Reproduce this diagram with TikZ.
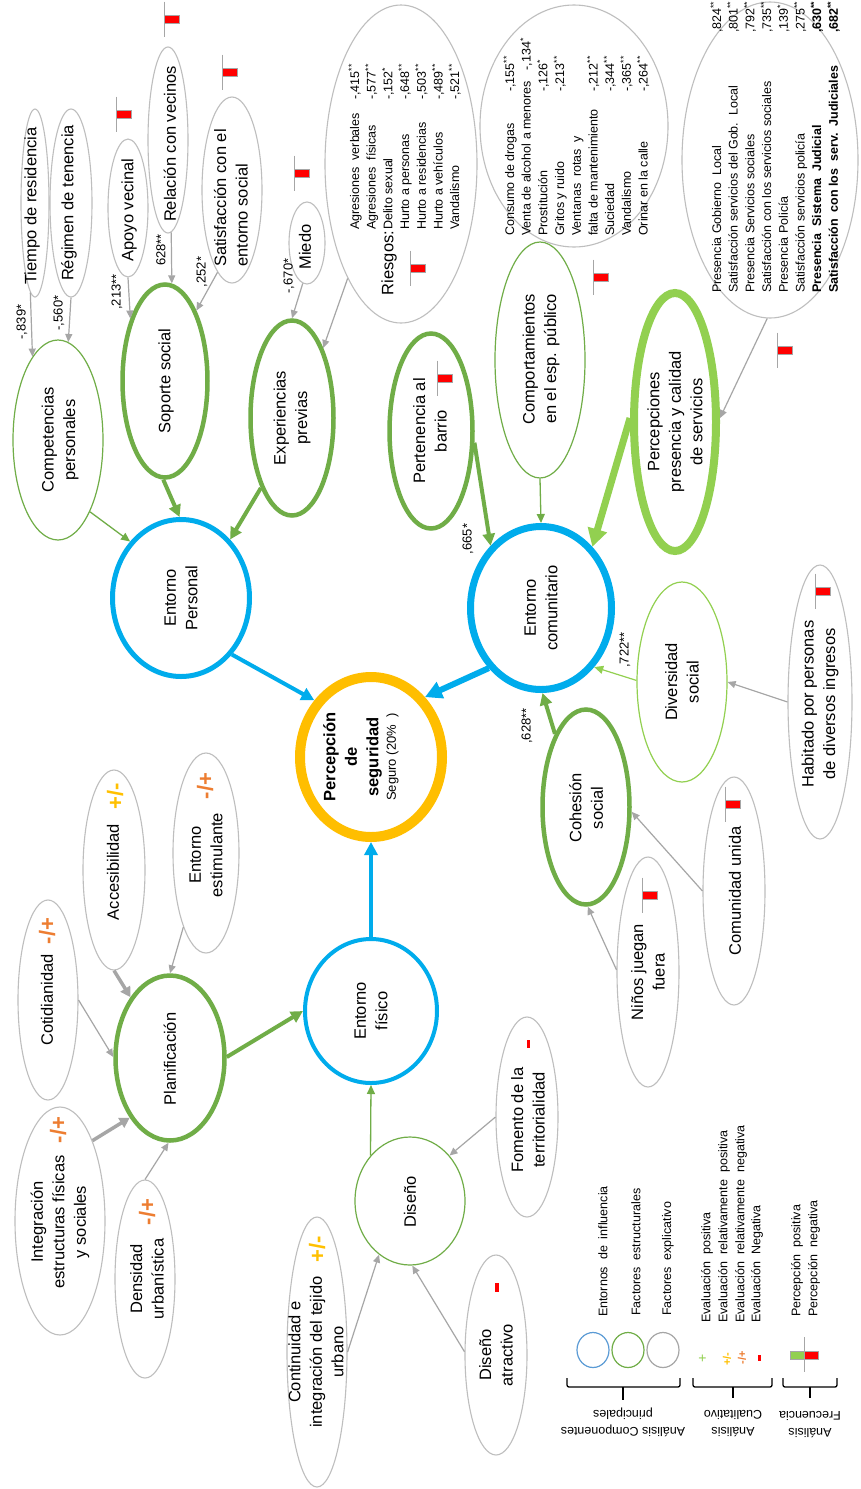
\documentclass[tikz,border=0pt]{standalone}
\usepackage{fontspec}
\setmainfont{Liberation Sans}
\usetikzlibrary{shapes.geometric,arrows.meta}
\definecolor{cblue}{RGB}{0,172,236}
\definecolor{cgreen}{RGB}{112,173,71}
\definecolor{clgreen}{RGB}{146,208,80}
\definecolor{cgray}{RGB}{190,190,190}
\definecolor{cagray}{RGB}{166,166,166}
\definecolor{cring}{RGB}{255,190,0}
\definecolor{corange}{RGB}{237,125,49}
\definecolor{cyellow}{RGB}{255,192,0}
\definecolor{cred}{RGB}{255,0,0}
\definecolor{clblue}{RGB}{91,155,213}

\newcommand\lblfont{\fontsize{16.5}{21.5}\selectfont}
\newcommand\listfont{\fontsize{12.5}{16.7}\selectfont}
\newcommand\coeffont{\fontsize{13}{15}\selectfont}
\newcommand\symfont{\fontsize{22}{24}\selectfont\bfseries}
\newcommand\legfont{\fontsize{12.5}{17}\selectfont}
\newcommand\rw[3]{\makebox[#1][l]{#2}#3}
\newcommand\st[1]{\textsuperscript{#1}}

\tikzset{
  ellbase/.style={ellipse, inner sep=0pt},
  grayell/.style={ellbase, draw=cgray, line width=1.1pt},
  thinell/.style={ellbase, draw=cgreen, line width=1.2pt},
  thickell/.style={ellbase, draw=cgreen, line width=4.5pt},
  blueell/.style={ellbase, draw=cblue},
  lbl/.style={rotate=90, align=center, font=\lblfont, inner sep=0pt},
  coef/.style={rotate=90, font=\coeffont, inner sep=0pt},
  sym/.style={rotate=90, font=\symfont, inner sep=0pt},
  listtxt/.style={rotate=90, anchor=base west, inner sep=0pt, font=\listfont},
  legtxt/.style={rotate=90, anchor=west, inner sep=0pt, font=\legfont},
  garrow/.style={draw=cagray, line width=1.2pt, -{Triangle[length=8pt,width=7pt]}},
  gthick/.style={draw=cagray, line width=3.5pt, -{Triangle[length=10pt,width=11pt]}},
  gnthin/.style={draw=cgreen, line width=1.3pt, -{Triangle[length=9pt,width=8pt]}},
  gnthick/.style={draw=cgreen, line width=4pt, -{Triangle[length=12pt,width=12pt]}},
  lgthin/.style={draw=clgreen, line width=1.2pt, -{Triangle[length=9pt,width=8pt]}},
  lgthick/.style={draw=clgreen, line width=7pt, -{Triangle[length=18pt,width=19pt]}},
  barrow/.style={draw=cblue, line width=4pt, -{Triangle[length=13pt,width=13pt]}},
  bthick/.style={draw=cblue, line width=6pt, -{Triangle[length=17pt,width=17pt]}},
  brace/.style={draw=black, line width=1.3pt, rounded corners=2pt},
}
\newcommand\flag[2]{%
  \draw[cagray, line width=0.8pt] (#1,#2-17.5) -- (#1,#2+17.5);
  \draw[fill=cred, draw=cagray, line width=0.8pt] (#1,#2-4) rectangle (#1+15,#2+4);}

\begin{document}
\begin{tikzpicture}[x=1pt,y=-1pt]
\fill[white] (0,0) rectangle (860,1489);
\useasboundingbox (0,0) rectangle (860,1489);

% ---------- main environments
\node[ellbase, draw=cring, line width=10pt, minimum width=142pt, minimum height=160pt] (perc) at (371,757) {};
\node[blueell, line width=5pt, minimum width=137pt, minimum height=157pt] (ep) at (181,598) {};
\node[blueell, line width=7pt, minimum width=141pt, minimum height=163pt] (ec) at (541,608) {};
\node[blueell, line width=4pt, minimum width=132pt, minimum height=144pt] (ef) at (371,1011) {};
% ---------- structural factors (thick)
\node[thickell, minimum width=109pt, minimum height=165pt] (plan) at (170,1058) {};
\node[thickell, minimum width=85pt, minimum height=193pt] (sop) at (165,381) {};
\node[thickell, minimum width=83pt, minimum height=195pt] (exp) at (292,418) {};
\node[thickell, minimum width=83pt, minimum height=195pt] (pert) at (431,431) {};
\node[thickell, minimum width=87pt, minimum height=195pt] (coh) at (586,807) {};
\node[ellbase, draw=clgreen, line width=8pt, minimum width=82pt, minimum height=258pt] (percserv) at (675,422) {};
% ---------- structural factors (thin)
\node[thinell, minimum width=90pt, minimum height=200pt] (comp) at (58,440) {};
\node[thinell, minimum width=90pt, minimum height=236pt] (compesp) at (540,360) {};
\node[thinell, draw=clgreen, minimum width=90pt, minimum height=200pt] (div) at (682,682) {};
\node[thinell, minimum width=110pt, minimum height=128pt] (dis) at (410,1201) {};
% ---------- explanatory factors
\node[grayell, minimum width=28pt, minimum height=188pt] (tiempo) at (35,203) {};
\node[grayell, minimum width=42pt, minimum height=188pt] (reg) at (71,203) {};
\node[grayell, minimum width=40pt, minimum height=138pt] (apoyo) at (128,208) {};
\node[grayell, minimum width=40pt, minimum height=186pt] (rel) at (168,140) {};
\node[grayell, minimum width=60pt, minimum height=186pt] (satis) at (232,190) {};
\node[grayell, minimum width=36pt, minimum height=82pt] (miedo) at (307,243) {};
\node[grayell, minimum width=152pt, minimum height=318pt] (riesgos) at (401,164) {};
\node[grayell, minimum width=188pt, minimum height=242pt] (consumo) at (574,126) {};
\node[grayell, minimum width=176pt, minimum height=316pt] (serv) at (770,160) {};
\node[grayell, minimum width=64pt, minimum height=274pt] (hab) at (820,702) {};
\node[grayell, minimum width=62pt, minimum height=228pt] (comu) at (734,891) {};
\node[grayell, minimum width=62pt, minimum height=230pt] (ninos) at (648,972) {};
\node[grayell, minimum width=62pt, minimum height=200pt] (fom) at (527,1117) {};
\node[grayell, minimum width=62pt, minimum height=200pt] (disatr) at (496,1355) {};
\node[grayell, minimum width=60pt, minimum height=270pt] (cont) at (317,1352) {};
\node[grayell, minimum width=60pt, minimum height=198pt] (dens) at (145,1279) {};
\node[grayell, minimum width=90pt, minimum height=228pt] (integ) at (60,1221) {};
\node[grayell, minimum width=60pt, minimum height=200pt] (coti) at (48,1000) {};
\node[grayell, minimum width=62pt, minimum height=200pt] (acc) at (114,870) {};
\node[grayell, minimum width=66pt, minimum height=200pt] (estim) at (206,853) {};

% ---------- labels
\node[lbl] (perc-l) at (361,757) {\textbf{Percepción}\\\textbf{de}\\\textbf{seguridad}\\[-4pt]{\fontsize{13}{15}\selectfont Seguro\ (20\%\ \ )}};
\node[lbl] (ep-l) at (181,598) {Entorno\\Personal};
\node[lbl] (ec-l) at (541,608) {Entorno\\comunitario};
\node[lbl] (ef-l) at (371,1011) {Entorno\\físico};
\node[lbl] (plan-l) at (170,1059) {Planificación};
\node[lbl] (sop-l) at (166,381) {Soporte social};
\node[lbl] (exp-l) at (292,418) {Experiencias\\previas};
\node[lbl] (pert-l) at (430,431) {Pertenencia al\\barrio};
\node[lbl] (coh-l) at (586,808) {Cohesión\\social};
\node[lbl] (percserv-l) at (675,422) {Percepciones\\presencia y calidad\\de servicios};
\node[lbl] (comp-l) at (60,440) {Competencias\\personales};
\node[lbl] (compesp-l) at (541,359) {Comportamientos\\en el esp. público};
\node[lbl] (div-l) at (682,682) {Diversidad\\social};
\node[lbl] (dis-l) at (410,1202) {Diseño};
\node[lbl] (tiempo-l) at (32,206) {Tiempo de residencia};
\node[lbl] (reg-l) at (69,203) {Régimen de tenencia};
\node[lbl] (apoyo-l) at (129,210) {Apoyo vecinal};
\node[lbl] (rel-l) at (170,144) {Relación con vecinos};
\node[lbl, align=left] (satis-l) at (231,198) {Satisfacción con el\\entorno social};
\node[lbl] (miedo-l) at (305,247) {Miedo};
\node[lbl] (hab-l) at (820,704) {Habitado por personas\\de diversos ingresos};
\node[lbl] (comu-l) at (735,891) {Comunidad unida};
\node[lbl] (ninos-l) at (648,972) {Niños juegan\\fuera};
\node[lbl] (fom-l) at (528,1120) {Fomento de la\\territorialidad};
\node[lbl] (disatr-l) at (496,1355) {Diseño\\atractivo};
\node[lbl] (cont-l) at (316,1352) {Continuidad e\\integración del tejido\\urbano};
\node[lbl] (dens-l) at (147,1279) {Densidad\\urbanística};
\node[lbl] (integ-l) at (60,1222) {Integración\\estructuras físicas\\y sociales};
\node[lbl] (coti-l) at (47,1000) {Cotidianidad};
\node[lbl] (acc-l) at (113,872) {Accesibilidad};
\node[lbl] (estim-l) at (206,855) {Entorno\\estimulante};

% ---------- evaluation symbols
\node[sym, text=corange] (s-coti) at (47,931) {-/+};
\node[sym, text=cyellow] (s-acc) at (115,796) {+/-};
\node[sym, text=corange] (s-estim) at (205,786) {-/+};
\node[sym, text=corange] (s-integ) at (58,1130) {-/+};
\node[sym, text=corange] (s-dens) at (147,1212) {-/+};
\node[sym, text=cyellow] (s-cont) at (317,1249) {+/-};
\fill[cred] (526.5,1040) rectangle (530,1048);
\fill[cred] (495,1283) rectangle (498.5,1292);

% ---------- lists
\node[rotate=90, font=\lblfont, inner sep=0pt] (riesgos-r) at (389,263) {Riesgos:};
\node[listtxt] (riesgos-t) at (359,230) {\begin{tabular}[t]{@{}l@{}}
\rw{130pt}{Agresiones\ \ verbales}{-,415\st{**}}\\
\rw{130pt}{Agresiones\ \ físicas}{-,577\st{**}}\\
\rw{130pt}{Delito sexual}{-,152\st{*}}\\
\rw{130pt}{Hurto\ a\ personas}{-,648\st{**}}\\
\rw{130pt}{Hurto\ a\ residencias}{-,503\st{**}}\\
\rw{130pt}{Hurto a vehículos}{-,489\st{**}}\\
\rw{130pt}{Vandalismo}{-,521\st{**}}
\end{tabular}};
\node[listtxt] (consumo-t) at (514,236) {\begin{tabular}[t]{@{}l@{}}
\rw{144pt}{Consumo de drogas}{-,155\st{**}}\\
Venta de alcohol a menores\ \ \ -,134\st{*}\\
\rw{144pt}{Prostitución}{-,126\st{*}}\\
\rw{144pt}{Gritos y ruido}{-,213\st{**}}\\
Ventanas\ \ rotas\ \ y\\
\rw{144pt}{falta de mantenimiento}{-,212\st{**}}\\
\rw{144pt}{Suciedad}{-,344\st{**}}\\
\rw{144pt}{Vandalismo}{-,365\st{**}}\\
\rw{144pt}{Orinar en la calle}{-,264\st{**}}
\end{tabular}};
\node[listtxt] (serv-t) at (721,293) {\begin{tabular}[t]{@{}l@{}}
\rw{260pt}{Presencia Gobierno\ \ Local}{,824\st{**}}\\
\rw{260pt}{Satisfacción servicios del Gob.\ \ Local}{,801\st{**}}\\
\rw{260pt}{Presencia Servicios sociales}{,792\st{**}}\\
\rw{260pt}{Satisfacción con los servicios sociales}{,735\st{**}}\\
\rw{260pt}{Presencia Policía}{,139\st{*}}\\
\rw{260pt}{Satisfacción servicios policía}{,275\st{**}}\\
\bfseries\rw{260pt}{Presencia\ \ Sistema\ \ Judicial}{,630\st{**}}\\
\bfseries\rw{260pt}{Satisfacción\ \ con los\ \ serv.\ \ Judiciales}{,682\st{**}}
\end{tabular}};

% ---------- coefficients
\node[coef] (c1) at (22,322) {-,839*};
\node[coef] (c2) at (59,313) {-,560*};
\node[coef] (c3) at (117,292) {,213**};
\node[coef] (c4) at (161,250) {628**};
\node[coef] (c5) at (202,272) {,252*};
\node[coef] (c6) at (289,276) {-,670*};
\node[coef] (c7) at (468,539) {,665*};
\node[coef] (c8) at (625,650) {,722**};
\node[coef] (c9) at (527,726) {,628**};

% ---------- frequency flags
\flag{164}{19}
\flag{116}{114}
\flag{222}{72}
\flag{294}{173}
\flag{410}{268}
\flag{437}{378}
\flag{593}{277}
\flag{777}{350}
\flag{815}{591}
\flag{725}{804}
\flag{642}{895}

% ---------- connectors
\draw[garrow] (tiempo.-93) -- (comp.107);
\draw[garrow] (reg.-90) -- (comp.84);
\draw[garrow] (apoyo.-90) -- (sop.119);
\draw[garrow] (rel.-88) -- (sop.86);
\draw[garrow] (satis.-100) -- (sop.66);
\draw[garrow] (miedo.-96) -- (exp.90);
\draw[garrow] (riesgos.-115) -- (exp.66);
\draw[gnthin] (comp.-66) -- (ep.132);
\draw[gnthick] (sop.-91) -- (ep.91);
\draw[gnthick] (exp.-114) -- (ep.50);
\draw[barrow] (ep.-48) -- (perc.135);
\draw[gnthick] (pert.-15) -- (ec.129);
\draw[gnthin] (compesp.-90) -- (ec.90);
\draw[lgthick] (percserv.175) -- (ec.50);
\draw[bthick] (ec.-131) -- (perc.48);
\draw[lgthin] (div.178) -- (ec.-48);
\draw[garrow] (hab.180) -- (div.0);
\draw[gnthick] (coh.113) -- (ec.-89);
\draw[garrow] (ninos.176) -- (coh.-89);
\draw[garrow] (comu.180) -- (coh.-6);
\draw[barrow] (ef.90) -- (perc.-90);
\draw[gnthick] (plan.1) -- (ef.180);
\draw[gnthin] (dis.131) -- (ef.-90);
\draw[garrow] (coti.0) -- (plan.179);
\draw[gthick] (acc.-90) -- (plan.123);
\draw[garrow] (estim.-107) -- (plan.90);
\draw[gthick] (integ.68) -- (plan.-124);
\draw[garrow] (dens.90) -- (plan.-91);
\draw[garrow] (cont.0) -- (dis.-120);
\draw[garrow] (disatr.174) -- (dis.-88);
\draw[garrow] (fom.180) -- (dis.49);
\draw[garrow] (serv.-91) -- (percserv.5);

% ---------- legend
\node[ellbase, draw=clblue, line width=1.2pt, minimum width=32pt, minimum height=35pt] (lg1) at (593,1350) {};
\node[ellbase, draw=cgreen, line width=1.2pt, minimum width=32pt, minimum height=35pt] (lg2) at (628,1350) {};
\node[ellbase, draw=cagray, line width=1.2pt, minimum width=32pt, minimum height=35pt] (lg3) at (663,1350) {};
\node[legtxt] (lt1) at (603,1317) {Entornos\ \ de\ \ influencia};
\node[legtxt] (lt2) at (636,1316) {Factores\ \ estructurales};
\node[legtxt] (lt3) at (668,1316) {Factores\ \ explicativo};
\node[rotate=90, inner sep=0pt, font=\fontsize{14}{16}\selectfont, text=clgreen] (ls1) at (703,1358) {+};
\node[rotate=90, inner sep=0pt, font=\fontsize{11}{13}\selectfont\bfseries, text=cyellow] (ls2) at (727,1359) {+/-};
\node[rotate=90, inner sep=0pt, font=\fontsize{11}{13}\selectfont\bfseries, text=corange] (ls3) at (742,1358) {-/+};
\fill[cred] (757.5,1355) rectangle (760.5,1361);
\node[legtxt] (lt4) at (707,1323) {Evaluación\ \ positiva};
\node[legtxt] (lt5) at (724,1323) {Evaluación\ \ relativamente\ \ positiva};
\node[legtxt] (lt6) at (741,1323) {Evaluación\ \ relativamente\ \ negativa};
\node[legtxt] (lt7) at (757,1323) {Evaluación\ \ Negativa};
\fill[clgreen] (790,1351) rectangle (804,1359);
\fill[cred] (804,1351) rectangle (818,1359);
\draw[cagray, line width=1pt] (790,1351) rectangle (818,1359);
\draw[cagray, line width=0.8pt] (804,1337) -- (804,1372);
\node[legtxt] (lt8) at (797,1317) {Percepción\ \ positiva};
\node[legtxt] (lt9) at (814,1317) {Percepción\ \ negativa};
\draw[brace] (567,1378) -- (567,1387) -- (680,1387) -- (680,1378);
\draw[brace] (623,1387) -- (623,1400);
\draw[brace] (693,1378) -- (693,1387) -- (772,1387) -- (772,1378);
\draw[brace] (733,1387) -- (733,1398);
\draw[brace] (783,1378) -- (783,1387) -- (837,1387) -- (837,1378);
\draw[brace] (810,1387) -- (810,1398);
\node[rotate=180, align=center, inner sep=0pt, font=\legfont] (lb1) at (623,1422) {Análisis Componentes\\principales};
\node[rotate=180, align=center, inner sep=0pt, font=\legfont] (lb2) at (733,1424) {Análisis\\Cualitativo};
\node[rotate=180, align=center, inner sep=0pt, font=\legfont] (lb3) at (810,1425) {Análisis\\Frecuencia};
\end{tikzpicture}
\end{document}
